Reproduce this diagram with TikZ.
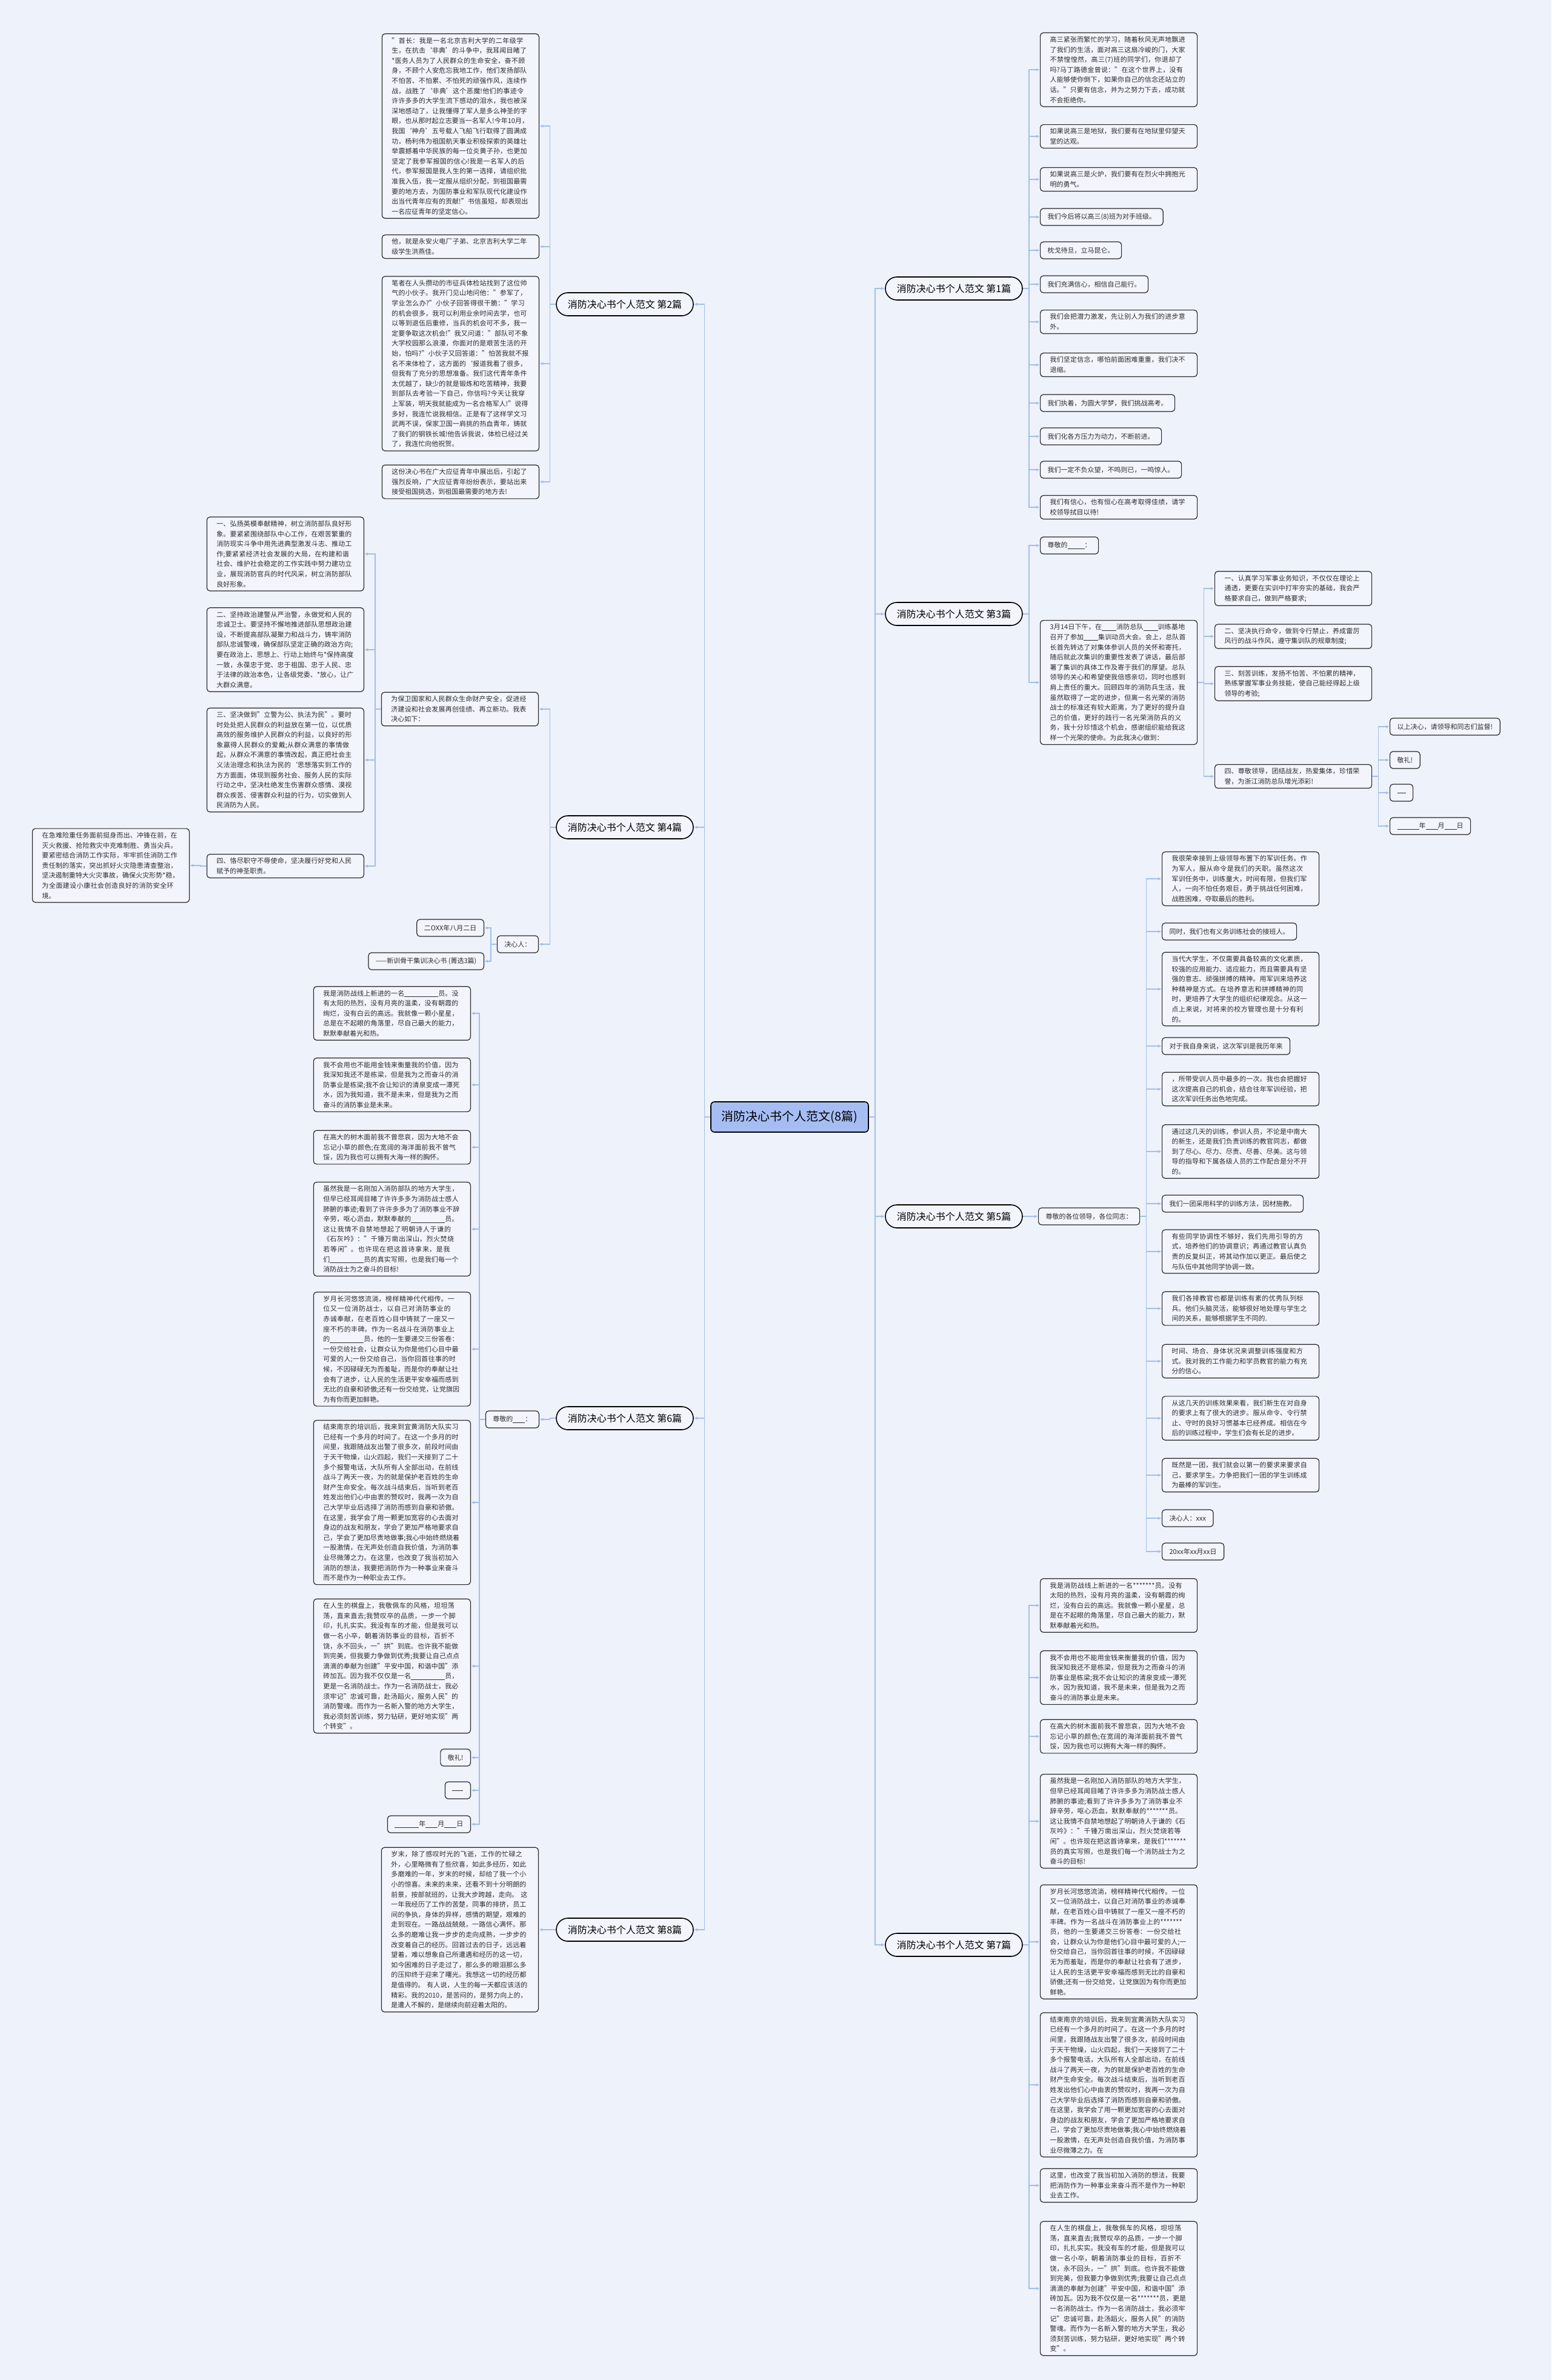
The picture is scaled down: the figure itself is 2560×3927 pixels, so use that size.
\documentclass[tikz,border=0pt]{standalone}
\usepackage{fontspec}
\setmainfont{Noto Sans CJK SC}
\usetikzlibrary{arrows.meta}
\XeTeXlinebreaklocale "zh"
\XeTeXlinebreakskip = 0pt plus 1pt
\definecolor{bgBlue}{RGB}{238,242,251}
\definecolor{leafFill}{RGB}{242,245,252}
\definecolor{leafLine}{RGB}{40,40,40}
\definecolor{textGrey}{RGB}{45,45,45}
\definecolor{lineBlue}{RGB}{164,190,232}
\definecolor{rootFill}{RGB}{166,189,244}
\newcommand\leafFont{\fontsize{11}{16.6}\selectfont}
\newcommand\fillin[1]{\rule[-1.5pt]{#1}{0.6pt}}
\begin{document}
\begin{tikzpicture}
[x=1pt,y=-1pt,
  lineDecorate/.style={draw=lineBlue,line width=1.4pt,-{Latex[length=6pt,width=5pt]}},
  toRight/.style={lineDecorate,to path={-- ++(10,0) |- (\tikztotarget)}},
  toLeft/.style={lineDecorate,to path={-- ++(-10,0) |- (\tikztotarget)}},
  rootDecorate/.style={draw=black,line width=1.6pt,rounded corners=6pt,fill=rootFill,
    minimum width=260pt,minimum height=50pt,font=\fontsize{20}{24}\selectfont},
  branchDecorate/.style={draw=black,line width=1.6pt,rounded corners=19pt,fill=leafFill,
    minimum width=226pt,minimum height=38pt,font=\fontsize{16}{20}\selectfont},
  leafDecorate/.style={draw=leafLine,line width=1.2pt,rounded corners=5pt,fill=leafFill,
    inner xsep=12pt,inner ysep=6pt,minimum height=28pt,text=textGrey,font=\leafFont,align=left},
  longLeaf/.style={leafDecorate,inner xsep=16pt,text width=227pt}]
\fill[bgBlue] (0,0) rectangle (2560,3927);
%% root and branches
\node[rootDecorate] (root) at (1303,1843) {消防决心书个人范文(8篇)};
\foreach \nodename/\x/\y/\num in {
  b1/1574/476/1, b2/1031/502/2, b3/1574/1013/3, b4/1031/1365/4,
  b5/1574/2007/5, b6/1031/2340/6, b7/1574/3209/7, b8/1031/3184/8}
{
  \node[branchDecorate] (\nodename) at (\x,\y) {消防决心书个人范文 第\num 篇};
}
%% 第1篇
\node[longLeaf,anchor=west] (a1) at (1716,115) {高三紧张而繁忙的学习，随着秋风无声地飘进了我们的生活，面对高三这扇冷峻的门，大家不禁惶惶然，高三(7)班的同学们，你退却了吗?马丁路德金曾说："在这个世界上，没有人能够使你倒下，如果你自己的信念还站立的话。"只要有信念，并为之努力下去，成功就不会拒绝你。};
\node[longLeaf,anchor=west] (a2) at (1716,225) {如果说高三是地狱，我们要有在地狱里仰望天堂的达观。};
\node[longLeaf,anchor=west] (a3) at (1716,296) {如果说高三是火炉，我们要有在烈火中拥抱光明的勇气。};
\node[leafDecorate,anchor=west] (a4) at (1716,358) {我们今后将以高三(8)班为对手班级。};
\node[leafDecorate,anchor=west] (a5) at (1716,413) {枕戈待旦，立马昆仑。};
\node[leafDecorate,anchor=west] (a6) at (1716,469) {我们充满信心，相信自己能行。};
\node[longLeaf,anchor=west] (a7) at (1716,531) {我们会把潜力激发，先让别人为我们的进步意外。};
\node[longLeaf,anchor=west] (a8) at (1716,602) {我们坚定信念，哪怕前面困难重重，我们决不退缩。};
\node[leafDecorate,anchor=west] (a9) at (1716,665) {我们执着，为圆大学梦，我们挑战高考。};
\node[leafDecorate,anchor=west] (a10) at (1716,720) {我们化各方压力为动力，不断前进。};
\node[leafDecorate,anchor=west] (a11) at (1716,775) {我们一定不负众望，不鸣则已，一鸣惊人。};
\node[longLeaf,anchor=west] (a12) at (1716,837) {我们有信心，也有恒心在高考取得佳绩，请学校领导拭目以待!};
%% 第3篇
\node[leafDecorate,anchor=west] (c1) at (1716,900) {尊敬的\fillin{28pt}：};
\node[longLeaf,anchor=west] (c2) at (1716,1126) {3月14日下午，在\fillin{24pt}消防总队\fillin{24pt}训练基地召开了参加\fillin{24pt}集训动员大会。会上，总队首长首先转达了对集体参训人员的关怀和寄托，随后就此次集训的重要性发表了讲话，最后部署了集训的具体工作及寄于我们的厚望。总队领导的关心和希望使我倍感亲切，同时也感到肩上责任的重大。回顾四年的消防兵生活，我虽然取得了一定的进步，但离一名光荣的消防战士的标准还有较大距离，为了更好的提升自己的价值，更好的践行一名光荣消防兵的义务，我十分珍惜这个机会，感谢组织能给我这样一个光荣的使命。为此我决心做到：};
\node[longLeaf,anchor=west] (c3) at (2004,971) {一、认真学习军事业务知识，不仅仅在理论上通透，更要在实训中打牢夯实的基础，我会严格要求自己，做到严格要求;};
\node[longLeaf,anchor=west] (c4) at (2004,1050) {二、坚决执行命令，做到令行禁止，养成雷厉风行的战斗作风，遵守集训队的规章制度;};
\node[longLeaf,anchor=west] (c5) at (2004,1128) {三、刻苦训练，发扬不怕苦、不怕累的精神，熟练掌握军事业务技能，使自己能经得起上级领导的考验;};
\node[longLeaf,anchor=west] (c6) at (2004,1281) {四、尊敬领导，团结战友，热爱集体，珍惜荣誉，为浙江消防总队增光添彩!};
\node[leafDecorate,anchor=west] (c7) at (2293,1199) {以上决心，请领导和同志们监督!};
\node[leafDecorate,anchor=west] (c8) at (2293,1254) {敬礼!};
\node[leafDecorate,anchor=west] (c9) at (2293,1308) {\fillin{14pt}};
\node[leafDecorate,anchor=west] (c10) at (2293,1363) {\fillin{36pt}年\fillin{20pt}月\fillin{20pt}日};
%% 第5篇
\node[leafDecorate,anchor=west] (e0) at (1713,2007) {尊敬的各位领导，各位同志：};
\node[longLeaf,anchor=west] (e1) at (1917,1450) {我很荣幸接到上级领导布置下的军训任务。作为军人，服从命令是我们的天职。虽然这次军训任务中，训练量大，时间有限，但我们军人，一向不怕任务艰巨，勇于挑战任何困难，战胜困难，夺取最后的胜利。};
\node[leafDecorate,anchor=west] (e2) at (1917,1537) {同时，我们也有义务训练社会的接班人。};
\node[longLeaf,anchor=west] (e3) at (1917,1632) {当代大学生，不仅需要具备较高的文化素质，较强的应用能力、适应能力，而且需要具有坚强的意志、顽强拼搏的精神。用军训来培养这种精神是方式。在培养意志和拼搏精神的同时，更培养了大学生的组织纪律观念。从这一点上来说，对将来的校方管理也是十分有利的。};
\node[leafDecorate,anchor=west] (e4) at (1917,1726) {对于我自身来说，这次军训是我历年来};
\node[longLeaf,anchor=west] (e5) at (1917,1797) {，所带受训人员中最多的一次。我也会把握好这次提高自己的机会，结合往年军训经验，把这次军训任务出色地完成。};
\node[longLeaf,anchor=west] (e6) at (1917,1900) {通过这几天的训练，参训人员，不论是中南大的新生，还是我们负责训练的教官同志，都做到了尽心、尽力、尽责、尽善、尽美。这与领导的指导和下属各级人员的工作配合是分不开的。};
\node[leafDecorate,anchor=west] (e7) at (1917,1986) {我们一团采用科学的训练方法，因材施教。};
\node[longLeaf,anchor=west] (e8) at (1917,2065) {有些同学协调性不够好，我们先用引导的方式，培养他们的协调意识；再通过教官认真负责的反复纠正，将其动作加以更正。最后使之与队伍中其他同学协调一致。};
\node[longLeaf,anchor=west] (e9) at (1917,2159) {我们各排教官也都是训练有素的优秀队列标兵。他们头脑灵活，能够很好地处理与学生之间的关系，能够根据学生不同的.};
\node[longLeaf,anchor=west] (e10) at (1917,2246) {时间、场合、身体状况来调整训练强度和方式。我对我的工作能力和学员教官的能力有充分的信心。};
\node[longLeaf,anchor=west] (e11) at (1917,2340) {从这几天的训练效果来看，我们新生在对自身的要求上有了很大的进步。服从命令、令行禁止、守时的良好习惯基本已经养成。相信在今后的训练过程中，学生们会有长足的进步。};
\node[longLeaf,anchor=west] (e12) at (1917,2434) {既然是一团，我们就会以第一的要求来要求自己，要求学生。力争把我们一团的学生训练成为最棒的军训生。};
\node[leafDecorate,anchor=west] (e13) at (1917,2505) {决心人：xxx};
\node[leafDecorate,anchor=west] (e14) at (1917,2560) {20xx年xx月xx日};
%% 第7篇
\node[longLeaf,anchor=west] (g1) at (1716,2649) {我是消防战线上新进的一名*******员。没有太阳的热烈，没有月亮的温柔，没有朝霞的绚烂，没有白云的高远。我就像一颗小星星，总是在不起眼的角落里，尽自己最大的能力，默默奉献着光和热。};
\node[longLeaf,anchor=west] (g2) at (1716,2768) {我不会用也不能用金钱来衡量我的价值，因为我深知我还不是栋梁，但是我为之而奋斗的消防事业是栋梁;我不会让知识的清泉变成一潭死水，因为我知道，我不是未来，但是我为之而奋斗的消防事业是未来。};
\node[longLeaf,anchor=west] (g3) at (1716,2865) {在高大的树木面前我不曾悲哀，因为大地不会忘记小草的颜色;在宽阔的海洋面前我不曾气馁，因为我也可以拥有大海一样的胸怀。};
\node[longLeaf,anchor=west] (g4) at (1716,3005) {虽然我是一名刚加入消防部队的地方大学生，但早已经耳闻目睹了许许多多为消防战士感人肺腑的事迹;看到了许许多多为了消防事业不辞辛劳，呕心沥血，默默奉献的*******员。这让我情不自禁地想起了明朝诗人于谦的《石灰吟》："千锤万凿出深山，烈火焚烧若等闲"。也许现在把这首诗拿来，是我们*******员的真实写照，也是我们每一个消防战士为之奋斗的目标!};
\node[longLeaf,anchor=west] (g5) at (1716,3204) {岁月长河悠悠流淌，榜样精神代代相传。一位又一位消防战士，以自己对消防事业的赤诚奉献，在老百姓心目中铸就了一座又一座不朽的丰碑。作为一名战斗在消防事业上的*******员，他的一生要递交三份答卷：一份交给社会，让群众认为你是他们心目中最可爱的人;一份交给自己，当你回首往事的时候，不因碌碌无为而羞耻，而是你的奉献让社会有了进步，让人民的生活更平安幸福而感到无比的自豪和骄傲;还有一份交给党，让党旗因为有你而更加鲜艳。};
\node[longLeaf,anchor=west] (g6) at (1716,3440) {结束南京的培训后，我来到宜黄消防大队实习已经有一个多月的时间了。在这一个多月的时间里，我跟随战友出警了很多次，前段时间由于天干物燥，山火四起，我们一天接到了二十多个报警电话，大队所有人全部出动，在前线战斗了两天一夜，为的就是保护老百姓的生命财产生命安全。每次战斗结束后，当听到老百姓发出他们心中由衷的赞叹时，我再一次为自己大学毕业后选择了消防而感到自豪和骄傲。在这里，我学会了用一颗更加宽容的心去面对身边的战友和朋友，学会了更加严格地要求自己，学会了更加尽责地做事;我心中始终燃烧着一股激情，在无声处创造自我价值，为消防事业尽微薄之力。在};
\node[longLeaf,anchor=west] (g7) at (1716,3606) {这里，也改变了我当初加入消防的想法，我要把消防作为一种事业来奋斗而不是作为一种职业去工作。};
\node[longLeaf,anchor=west] (g8) at (1716,3776) {在人生的棋盘上，我敬佩车的风格，坦坦荡荡，直来直去;我赞叹卒的品质，一步一个脚印，扎扎实实。我没有车的才能，但是我可以做一名小卒，朝着消防事业的目标，百折不饶，永不回头，一"拱"到底。也许我不能做到完美，但我要力争做到优秀;我要让自己点点滴滴的奉献为创建"平安中国，和谐中国"添砖加瓦。因为我不仅仅是一名*******员，更是一名消防战士。作为一名消防战士，我必须牢记"忠诚可靠，赴汤蹈火，服务人民"的消防警魂。而作为一名新入警的地方大学生，我必须刻苦训练，努力钻研，更好地实现"两个转变"。};
%% 第2篇
\node[longLeaf,anchor=east] (d1) at (890,208) {"首长：我是一名北京吉利大学的二年级学生，在抗击‘非典’的斗争中，我耳闻目睹了*医务人员为了人民群众的生命安全，奋不顾身，不顾个人安危忘我地工作，他们发扬部队不怕苦、不怕累、不怕死的顽强作风，连续作战，战胜了‘非典’这个恶魔!他们的事迹令许许多多的大学生流下感动的泪水，我也被深深地感动了，让我懂得了军人是多么神圣的字眼，也从那时起立志要当一名军人!今年10月，我国‘神舟’五号载人飞船飞行取得了圆满成功，杨利伟为祖国航天事业积极探索的英雄壮举震撼着中华民族的每一位炎黄子孙，也更加坚定了我参军报国的信心!我是一名军人的后代，参军报国是我人生的第一选择，请组织批准我入伍，我一定服从组织分配，到祖国最需要的地方去，为国防事业和军队现代化建设作出当代青年应有的贡献!"书信虽短，却表现出一名应征青年的坚定信心。};
\node[longLeaf,anchor=east] (d2) at (890,407) {他，就是永安火电厂子弟、北京吉利大学二年级学生洪燕佳。};
\node[longLeaf,anchor=east] (d3) at (890,600) {笔者在人头攒动的市征兵体检站找到了这位帅气的小伙子。我开门见山地问他："参军了，学业怎么办?"小伙子回答得很干脆："学习的机会很多，我可以利用业余时间去学，也可以等到退伍后重修，当兵的机会可不多，我一定要争取这次机会!"我又问道："部队可不象大学校园那么浪漫，你面对的是艰苦生活的开始，怕吗?"小伙子又回答道："怕苦我就不报名不来体检了，这方面的`报道我看了很多，但我有了充分的思想准备。我们这代青年条件太优越了，缺少的就是锻炼和吃苦精神，我要到部队去考验一下自己，你信吗?今天让我穿上军装，明天我就能成为一名合格军人!"说得多好，我连忙说我相信。正是有了这样学文习武两不误，保家卫国一肩挑的热血青年，铸就了我们的钢铁长城!他告诉我说，体检已经过关了，我连忙向他祝贺。};
\node[longLeaf,anchor=east] (d4) at (890,795) {这份决心书在广大应征青年中展出后，引起了强烈反响，广大应征青年纷纷表示，要站出来接受祖国挑选，到祖国最需要的地方去!};
%% 第4篇
\node[longLeaf,anchor=east] (f0) at (889,1170) {为保卫国家和人民群众生命财产安全，促进经济建设和社会发展再创佳绩、再立新功。我表决心如下：};
\node[longLeaf,anchor=east] (f1) at (601,914) {一、弘扬英模奉献精神，树立消防部队良好形象。要紧紧围绕部队中心工作，在艰苦繁重的消防现实斗争中用先进典型激发斗志、推动工作;要紧紧经济社会发展的大局，在构建和谐社会、维护社会稳定的工作实践中努力建功立业，展现消防官兵的时代风采，树立消防部队良好形象。};
\node[longLeaf,anchor=east] (f2) at (601,1072) {二、坚持政治建警从严治警，永做党和人民的忠诚卫士。要坚持不懈地推进部队思想政治建设，不断提高部队凝聚力和战斗力，铸牢消防部队忠诚警魂，确保部队坚定正确的政治方向;要在政治上、思想上、行动上始终与*保持高度一致，永葆忠于党、忠于祖国、忠于人民、忠于法律的政治本色，让各级党委、*放心，让广大群众满意。};
\node[longLeaf,anchor=east] (f3) at (601,1254) {三、坚决做到"立警为公、执法为民"。要时时处处把人民群众的利益放在第一位，以优质高效的服务维护人民群众的利益，以良好的形象赢得人民群众的爱戴;从群众满意的事情做起，从群众不满意的事情改起，真正把社会主义法治理念和执法为民的`思想落实到工作的方方面面，体现到服务社会、服务人民的实际行动之中，坚决杜绝发生伤害群众感情、漠视群众疾苦、侵害群众利益的行为，切实做到人民消防为人民。};
\node[longLeaf,anchor=east] (f4) at (601,1429) {四、恪尽职守不辱使命，坚决履行好党和人民赋予的神圣职责。};
\node[longLeaf,anchor=east] (f5) at (313,1428) {在急难险重任务面前挺身而出、冲锋在前，在灭火救援、抢险救灾中克难制胜、勇当尖兵。要紧密结合消防工作实际，牢牢抓住消防工作责任制的落实，突出抓好火灾隐患清查整治，坚决遏制重特大火灾事故，确保火灾形势*稳，为全面建设小康社会创造良好的消防安全环境。};
\node[leafDecorate,anchor=east] (fj) at (889,1558) {决心人：};
\node[leafDecorate,anchor=east] (fk1) at (799,1531) {二OXX年八月二日};
\node[leafDecorate,anchor=east] (fk2) at (799,1586) {——新训骨干集训决心书 (菁选3篇)};
%% 第6篇
\node[leafDecorate,anchor=east] (h0) at (890,2342) {尊敬的\fillin{20pt}：};
\node[longLeaf,anchor=east] (h1) at (777,1672) {我是消防战线上新进的一名\fillin{56pt}员。没有太阳的热烈，没有月亮的温柔，没有朝霞的绚烂，没有白云的高远。我就像一颗小星星，总是在不起眼的角落里，尽自己最大的能力，默默奉献着光和热。};
\node[longLeaf,anchor=east] (h2) at (777,1790) {我不会用也不能用金钱来衡量我的价值，因为我深知我还不是栋梁，但是我为之而奋斗的消防事业是栋梁;我不会让知识的清泉变成一潭死水，因为我知道，我不是未来，但是我为之而奋斗的消防事业是未来。};
\node[longLeaf,anchor=east] (h3) at (777,1893) {在高大的树木面前我不曾悲哀，因为大地不会忘记小草的颜色;在宽阔的海洋面前我不曾气馁，因为我也可以拥有大海一样的胸怀。};
\node[longLeaf,anchor=east] (h4) at (777,2028) {虽然我是一名刚加入消防部队的地方大学生，但早已经耳闻目睹了许许多多为消防战士感人肺腑的事迹;看到了许许多多为了消防事业不辞辛劳，呕心沥血，默默奉献的\fillin{56pt}员。这让我情不自禁地想起了明朝诗人于谦的《石灰吟》："千锤万凿出深山，烈火焚烧若等闲"。也许现在把这首诗拿来，是我们\fillin{56pt}员的真实写照，也是我们每一个消防战士为之奋斗的目标!};
\node[longLeaf,anchor=east] (h5) at (777,2226) {岁月长河悠悠流淌，榜样精神代代相传。一位又一位消防战士，以自己对消防事业的赤诚奉献，在老百姓心目中铸就了一座又一座不朽的丰碑。作为一名战斗在消防事业上的\fillin{56pt}员，他的一生要递交三份答卷：一份交给社会，让群众认为你是他们心目中最可爱的人;一份交给自己，当你回首往事的时候，不因碌碌无为而羞耻，而是你的奉献让社会有了进步，让人民的生活更平安幸福而感到无比的自豪和骄傲;还有一份交给党，让党旗因为有你而更加鲜艳。};
\node[longLeaf,anchor=east] (h6) at (777,2479) {结束南京的培训后，我来到宜黄消防大队实习已经有一个多月的时间了。在这一个多月的时间里，我跟随战友出警了很多次，前段时间由于天干物燥，山火四起，我们一天接到了二十多个报警电话，大队所有人全部出动，在前线战斗了两天一夜，为的就是保护老百姓的生命财产生命安全。每次战斗结束后，当听到老百姓发出他们心中由衷的赞叹时，我再一次为自己大学毕业后选择了消防而感到自豪和骄傲。在这里，我学会了用一颗更加宽容的心去面对身边的战友和朋友，学会了更加严格地要求自己，学会了更加尽责地做事;我心中始终燃烧着一股激情，在无声处创造自我价值，为消防事业尽微薄之力。在这里，也改变了我当初加入消防的想法，我要把消防作为一种事业来奋斗而不是作为一种职业去工作。};
\node[longLeaf,anchor=east] (h7) at (777,2749) {在人生的棋盘上，我敬佩车的风格，坦坦荡荡，直来直去;我赞叹卒的品质，一步一个脚印，扎扎实实。我没有车的才能，但是我可以做一名小卒，朝着消防事业的目标，百折不饶，永不回头，一"拱"到底。也许我不能做到完美，但我要力争做到优秀;我要让自己点点滴滴的奉献为创建"平安中国，和谐中国"添砖加瓦。因为我不仅仅是一名\fillin{56pt}员，更是一名消防战士。作为一名消防战士，我必须牢记"忠诚可靠，赴汤蹈火，服务人民"的消防警魂。而作为一名新入警的地方大学生，我必须刻苦训练，努力钻研，更好地实现"两个转变"。};
\node[leafDecorate,anchor=east] (h8) at (777,2900) {敬礼!};
\node[leafDecorate,anchor=east] (h9) at (777,2954) {\fillin{18pt}};
\node[leafDecorate,anchor=east] (h10) at (777,3010) {\fillin{40pt}年\fillin{20pt}月\fillin{20pt}日};
%% 第8篇
\node[longLeaf,anchor=east] (k1) at (889,3184) {岁末，除了感叹时光的飞逝，工作的忙碌之外，心里略微有了些欣喜，如此多经历，如此多磨难的一年，岁末的时候，却给了我一个小小的惊喜。未来的未来，还看不到十分明朗的前景，按部就班的，让我大步跨越，走向。 这一年我经历了工作的苦楚，同事的排挤，员工间的争执，身体的异样，感情的期望，艰难的走到现在。一路战战兢兢，一路信心满怀。那么多的磨难让我一步步的走向成熟，一步步的改变着自己的经历。回首过去的日子，远远着望着，难以想象自己所遭遇和经历的这一切，如今困难的日子走过了，那么多的眼泪那么多的压抑终于迎来了曙光。我想这一切的经历都是值得的。 有人说，人生的每一天都应该活的精彩。我的2010，是苦闷的，是努力向上的，是遭人不解的，是继续向前迎着太阳的。};
%% connectors, right side
\path
\foreach \startnode/\endnode in {
  root/b1, root/b3, root/b5, root/b7,
  b1/a1, b1/a2, b1/a3, b1/a4, b1/a5, b1/a6, b1/a7, b1/a8, b1/a9, b1/a10, b1/a11, b1/a12,
  b3/c1, b3/c2, c2/c3, c2/c4, c2/c5, c2/c6, c6/c7, c6/c8, c6/c9, c6/c10,
  b5/e0, e0/e1, e0/e2, e0/e3, e0/e4, e0/e5, e0/e6, e0/e7, e0/e8, e0/e9, e0/e10,
  e0/e11, e0/e12, e0/e13, e0/e14,
  b7/g1, b7/g2, b7/g3, b7/g4, b7/g5, b7/g6, b7/g7, b7/g8}
{
  (\startnode.east) edge[toRight] (\endnode.west)
};
%% connectors, left side
\path
\foreach \startnode/\endnode in {
  root/b2, root/b4, root/b6, root/b8,
  b2/d1, b2/d2, b2/d3, b2/d4,
  b4/f0, b4/fj, f0/f1, f0/f2, f0/f3, f0/f4, f4/f5, fj/fk1, fj/fk2,
  b6/h0, h0/h1, h0/h2, h0/h3, h0/h4, h0/h5, h0/h6, h0/h7, h0/h8, h0/h9, h0/h10,
  b8/k1}
{
  (\startnode.west) edge[toLeft] (\endnode.east)
};
\end{tikzpicture}
\end{document}
